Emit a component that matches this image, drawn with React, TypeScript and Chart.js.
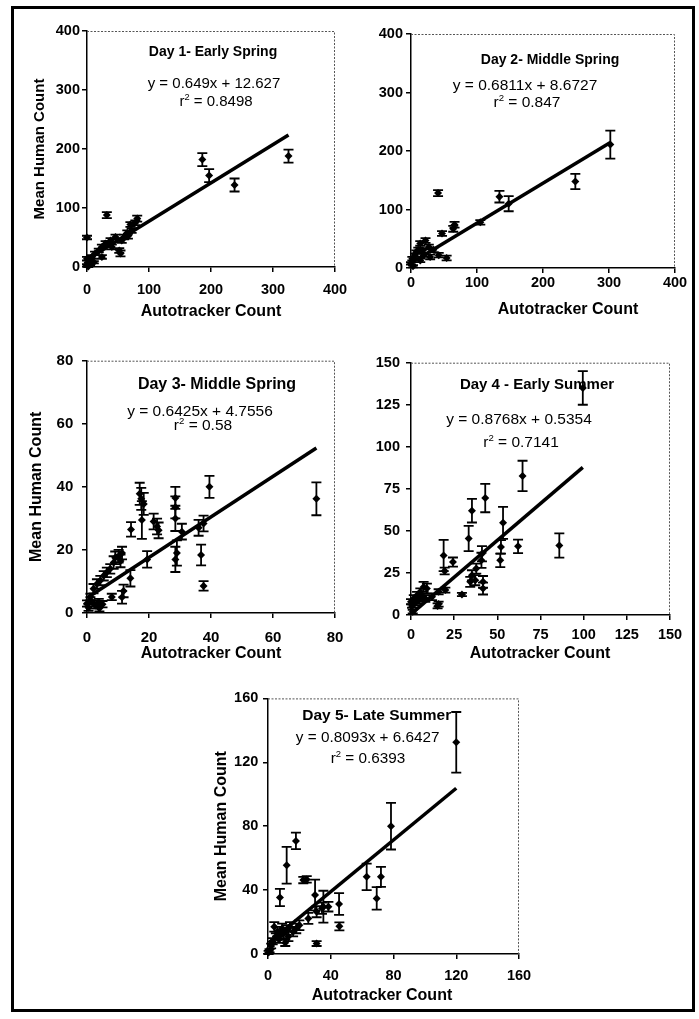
import React, { useEffect, useRef } from "react";
import { Chart, registerables } from "chart.js";

Chart.register(...registerables);

const FONT = '"Liberation Sans", Arial, Helvetica, sans-serif';

// ---------------- Data ----------------
// Day 1 - Early Spring
const day1X = [325, 186, 197, 238, 32, 0, 81, 78, 70, 72, 65, 60, 54, 52, 46, 38, 40, 30, 35, 24, 19, 24, 13, 8, 0, 3, 11, 5, 0, 2, 56, 66];
const day1Y = [188, 182, 155, 139, 88, 50, 82, 75, 72, 62, 58, 51, 23, 28, 51, 45, 34, 40, 40, 34, 28, 17, 23, 17, 14, 9, 8, 5, 3, 1, 45, 52];
const day1Err = [11, 11, 11, 11, 5, 3, 5, 4, 4, 4, 4, 4, 5, 4, 4, 4, 4, 4, 4, 4, 3, 3, 3, 3, 3, 2, 2, 2, 2, 1, 4, 4];

// Day 2 - Middle Spring
const day2X = [302, 249, 134, 148, 105, 41, 66, 64, 47, 54, 22, 14, 27, 11, 34, 6, 19, 42, 2, 14, 0, 29, 8, 3, 18];
const day2Y = [211, 148, 122, 110, 78, 128, 74, 67, 59, 17, 47, 42, 36, 31, 31, 22, 22, 22, 16, 13, 8, 19, 27, 3, 30];
const day2Err = [24, 13, 10, 13, 4, 5, 5, 5, 4, 4, 4, 4, 4, 4, 4, 3, 3, 4, 3, 3, 2, 4, 3, 2, 4];

// Day 3 - Middle Spring
const day3X = [74, 39.5, 28.5, 28.5, 28.5, 29, 28.5, 36.8, 37.6, 36, 37.6, 30.6, 17, 17.5, 18.3, 17.7, 14.2, 21.5, 22.6, 23.1, 19.4, 14, 11.8, 11.3, 11.3, 10.2, 9.1, 8.6, 10.8, 7.5, 6.4, 5.4, 4.3, 3.2, 2.1, 8, 1.1, 0, 2.1, 3.8, 1.1, 2.7, 0.5, 5, 4];
const day3Y = [36.2, 40, 36.5, 33.5, 30, 19, 17, 18.4, 8.6, 27, 28.4, 25.8, 37.8, 36.2, 34.6, 29.5, 26.5, 29, 27.4, 26.2, 17, 11, 7, 5, 19, 18, 17.5, 16, 16.5, 14, 12.9, 11.8, 10.3, 9.2, 7.7, 5.1, 5.1, 3, 3, 3.5, 4, 2.4, 1.7, 2.8, 1.5];
const day3Err = [5.2, 3.5, 3.5, 3.5, 4, 4, 4, 3.3, 1.5, 2.5, 2.5, 2.5, 3.5, 3.5, 3.5, 6, 2.3, 2.5, 2.5, 2.5, 2.6, 2.6, 2, 2, 2, 2, 2, 2, 2, 1.5, 1.5, 1.5, 1.5, 1.5, 1.5, 1, 1, 1, 1, 1, 1, 1, 1, 1, 1];

// Day 4 - Early Summer
const day4X = [99.5, 64.6, 85.9, 43, 35.3, 33.4, 53.3, 62, 52.1, 51.7, 41.1, 40.8, 37.8, 18.9, 24.3, 19.5, 35.3, 34.3, 37.2, 41.7, 41.7, 29.5, 16, 15.4, 7.3, 9.2, 19.9, 16, 5.4, 3.5, 1.6, 0, 6.4, 2.5, 0.6, 4.5, 8.3, 12.2, 1];
const day4Y = [135, 82.7, 41.3, 69.5, 62, 45.5, 54.8, 40.8, 40.5, 32.5, 36.4, 32.5, 27.6, 35.4, 31.5, 26.2, 23.6, 19.7, 20.7, 19.7, 15.7, 12.2, 6.5, 5.4, 16.7, 15.7, 14.8, 13.8, 13.8, 11.8, 9.8, 7.9, 10.8, 7.3, 5.3, 8.8, 9.8, 10.8, 2];
const day4Err = [10, 9, 7.2, 8.4, 7, 7.5, 9.5, 4, 4, 4, 4.5, 4.5, 3, 9.3, 2.7, 2, 3, 3, 3, 3.5, 3.5, 1, 1.5, 1.5, 3, 3, 1.5, 1.5, 2, 2, 2, 1.5, 2, 1.5, 1, 2, 2, 2, 1];

// Day 5 - Late Summer
const day5X = [120, 78.4, 62.9, 72, 69.3, 45.3, 45.5, 31, 30, 35.3, 22.5, 24.7, 17.8, 11.9, 7.6, 25.7, 31, 34.4, 38.5, 1, 2, 3, 5, 6, 8, 9, 10, 12, 13, 14, 16, 18, 20, 4, 7, 11, 0.4];
const day5Y = [132.5, 80, 48.3, 48.3, 34.8, 31.3, 17.3, 6.5, 36.9, 29.6, 46.3, 46.7, 70.8, 55.6, 35.4, 22.3, 26.5, 28.6, 29.6, 2, 5, 8, 11, 14, 12, 16, 13, 15, 11, 17, 14, 16, 18, 17, 9, 7, 1];
const day5Err = [19, 14.6, 8.3, 6.3, 7, 6.8, 2.5, 1.5, 9.6, 10, 2, 2, 5.2, 11.5, 5.4, 3.5, 3.5, 3.5, 3, 1, 1.5, 2, 2, 3, 3, 3, 3, 3, 3, 3, 3, 3, 3, 3, 2, 2, 1];

const titles = ["Day 1- Early Spring", "Day 2- Middle Spring", "Day 3- Middle Spring", "Day 4 - Early Summer", "Day 5- Late Summer"];
const equations = ["y = 0.649x + 12.627", "y = 0.6811x + 8.6727", "y = 0.6425x + 4.7556", "y = 0.8768x + 0.5354", "y = 0.8093x + 6.6427"];
const rSquared = ["0.8498", "0.847", "0.58", "0.7141", "0.6393"];
const slopes = [0.649, 0.6811, 0.6425, 0.8768, 0.8093];
const intercepts = [12.627, 8.6727, 4.7556, 0.5354, 6.6427];
const axisMax = [400, 400, 80, 150, 160];
const axisStep = [100, 100, 20, 25, 40];
const xAxisTitle = "Autotracker Count";
const yAxisTitle = "Mean Human Count";

const allX = [day1X, day2X, day3X, day4X, day5X];
const allY = [day1Y, day2Y, day3Y, day4Y, day5Y];
const allErr = [day1Err, day2Err, day3Err, day4Err, day5Err];

// ---------------- Layout (page pixel coordinates) ----------------
type Layout = {
  canvas: number[];
  area: number[];
  yTitle: boolean;
  yTitleFont: number;
  yTitleCenter: number;
  xTitlePos: number[];
  yTickRight: number;
  xTickCenter: number;
  tickFont: number;
  titleFont: number;
  eqFont: number;
  titlePos: number[];
  eqPos: number[];
  r2Pos: number[];
};

const layouts: Layout[] = [
  { canvas: [20, 18, 340, 310], area: [87, 31, 335, 267], yTitle: true, yTitleFont: 15, yTitleCenter: 40, xTitlePos: [211, 316], yTickRight: 80, xTickCenter: 290, tickFont: 14.5, titleFont: 14, eqFont: 15, titlePos: [213, 56], eqPos: [214, 88], r2Pos: [216, 106] },
  { canvas: [360, 18, 335, 310], area: [411, 34, 675, 268], yTitle: false, yTitleFont: 15, yTitleCenter: 0, xTitlePos: [568, 314], yTickRight: 403, xTickCenter: 283, tickFont: 14.5, titleFont: 14, eqFont: 15.5, titlePos: [550, 64], eqPos: [525, 90], r2Pos: [527, 107.3] },
  { canvas: [20, 343, 340, 322], area: [87, 356, 335, 613], yTitle: true, yTitleFont: 16, yTitleCenter: 36.7, xTitlePos: [211, 658], yTickRight: 73.3, xTickCenter: 638, tickFont: 15, titleFont: 16, eqFont: 15.5, titlePos: [217, 389], eqPos: [200, 416], r2Pos: [203, 430] },
  { canvas: [360, 348, 335, 317], area: [411, 361, 670, 615], yTitle: false, yTitleFont: 15, yTitleCenter: 0, xTitlePos: [540, 658], yTickRight: 400, xTickCenter: 635, tickFont: 14.5, titleFont: 15, eqFont: 15.5, titlePos: [537, 389], eqPos: [519, 424], r2Pos: [521, 447] },
  { canvas: [190, 685, 350, 325], area: [268, 698, 519, 954], yTitle: true, yTitleFont: 16, yTitleCenter: 221.7, xTitlePos: [382, 1000], yTickRight: 258.3, xTickCenter: 976, tickFont: 14.5, titleFont: 15.5, eqFont: 15.3, titlePos: [376.7, 720], eqPos: [367.7, 742], r2Pos: [368, 763] },
];

const TICK_LEN = 5;
const X_TITLE_FONT = 16;

function Panel({ idx }: { idx: number }) {
  const ref = useRef<HTMLCanvasElement>(null);
  const L = layouts[idx];
  const [cx, cy, cw, ch] = L.canvas;

  useEffect(() => {
    const [al, at, ar, ab] = L.area;
    const xs = allX[idx];
    const ys = allY[idx];
    const errs = allErr[idx];
    const xMin = Math.min(...xs);
    const xMaxData = Math.max(...xs);
    const fit = [
      { x: xMin, y: slopes[idx] * xMin + intercepts[idx] },
      { x: xMaxData, y: slopes[idx] * xMaxData + intercepts[idx] },
    ];

    const yAxisW = al - cx;
    const xAxisH = cy + ch - ab;
    const padTop = at - cy;
    const padRight = cx + cw - ar;

    const yTitleLH = L.yTitleFont * 1.2;
    const yTitlePadTop = L.yTitleCenter - cx - yTitleLH / 2;
    const yTickPad = al - TICK_LEN - L.yTickRight;
    const tickLH = L.tickFont * 1.2;
    const xTickPad = L.xTickCenter - ab - TICK_LEN - tickLH / 2;

    const decor = {
      id: "decor" + idx,
      beforeDatasetsDraw(chart: any) {
        const { ctx, chartArea } = chart;
        const xS = chart.scales.x;
        const yS = chart.scales.y;
        ctx.save();
        // plot area border (top & right)
        ctx.strokeStyle = "#555";
        ctx.lineWidth = 1;
        ctx.setLineDash([2, 1.5]);
        ctx.beginPath();
        ctx.moveTo(chartArea.left, chartArea.top + 0.5);
        ctx.lineTo(chartArea.right - 0.5, chartArea.top + 0.5);
        ctx.lineTo(chartArea.right - 0.5, chartArea.bottom);
        ctx.stroke();
        ctx.setLineDash([]);
        // error bars
        ctx.strokeStyle = "#000";
        ctx.lineWidth = 1.8;
        const cap = 5;
        for (let i = 0; i < xs.length; i++) {
          const px = xS.getPixelForValue(xs[i]);
          const pt = yS.getPixelForValue(ys[i] + errs[i]);
          const pb = yS.getPixelForValue(Math.max(0, ys[i] - errs[i]));
          ctx.beginPath();
          ctx.moveTo(px, pt);
          ctx.lineTo(px, pb);
          ctx.moveTo(px - cap, pt);
          ctx.lineTo(px + cap, pt);
          ctx.moveTo(px - cap, pb);
          ctx.lineTo(px + cap, pb);
          ctx.stroke();
        }
        ctx.restore();
      },
      afterDraw(chart: any) {
        const ctx = chart.ctx;
        ctx.save();
        ctx.fillStyle = "#000";
        ctx.textBaseline = "alphabetic";
        ctx.textAlign = "center";
        // x-axis title
        ctx.font = `bold ${X_TITLE_FONT}px ${FONT}`;
        ctx.fillText(xAxisTitle, L.xTitlePos[0] - cx, L.xTitlePos[1] - cy);
        // panel title & equation
        ctx.font = `bold ${L.titleFont}px ${FONT}`;
        ctx.fillText(titles[idx], L.titlePos[0] - cx, L.titlePos[1] - cy);
        ctx.font = `${L.eqFont}px ${FONT}`;
        ctx.fillText(equations[idx], L.eqPos[0] - cx, L.eqPos[1] - cy);
        // r² line
        const mainFont = `${L.eqFont}px ${FONT}`;
        const supFont = `${L.eqFont * 0.62}px ${FONT}`;
        ctx.font = mainFont;
        const wR = ctx.measureText("r").width;
        const rest = " = " + rSquared[idx];
        const wRest = ctx.measureText(rest).width;
        ctx.font = supFont;
        const wS = ctx.measureText("2").width;
        const total = wR + wS + wRest;
        const sx = L.r2Pos[0] - cx - total / 2;
        const by = L.r2Pos[1] - cy;
        ctx.textAlign = "left";
        ctx.font = mainFont;
        ctx.fillText("r", sx, by);
        ctx.font = supFont;
        ctx.fillText("2", sx + wR, by - L.eqFont * 0.4);
        ctx.font = mainFont;
        ctx.fillText(rest, sx + wR + wS, by);
        ctx.restore();
      },
    };

    const chart = new Chart(ref.current as HTMLCanvasElement, {
      type: "scatter",
      data: {
        datasets: [
          {
            data: xs.map((x, i) => ({ x, y: ys[i] })),
            pointStyle: "rectRot",
            pointRadius: 4,
            pointBackgroundColor: "#000",
            pointBorderColor: "#000",
            pointBorderWidth: 0,
            clip: false,
          } as any,
          {
            data: fit,
            showLine: true,
            borderColor: "#000",
            borderWidth: 3.5,
            pointRadius: 0,
            clip: false,
          } as any,
        ],
      },
      options: {
        animation: false,
        responsive: false,
        maintainAspectRatio: false,
        events: [],
        layout: { padding: { top: padTop, right: padRight, left: 0, bottom: 0 } },
        plugins: { legend: { display: false }, tooltip: { enabled: false } },
        scales: {
          x: {
            type: "linear",
            position: "bottom",
            min: 0,
            max: axisMax[idx],
            ticks: {
              stepSize: axisStep[idx],
              color: "#000",
              font: { family: FONT, size: L.tickFont, weight: "bold" },
              padding: xTickPad,
              maxRotation: 0,
              autoSkip: false,
            },
            grid: { display: true, drawOnChartArea: false, drawTicks: true, tickLength: TICK_LEN, color: "#000", lineWidth: 1.5 },
            border: { display: true, color: "#000", width: 1.5 },
            title: { display: false },
            afterFit: (s: any) => {
              s.height = xAxisH;
            },
          },
          y: {
            type: "linear",
            position: "left",
            min: 0,
            max: axisMax[idx],
            ticks: {
              stepSize: axisStep[idx],
              color: "#000",
              font: { family: FONT, size: L.tickFont, weight: "bold" },
              padding: yTickPad,
              autoSkip: false,
            },
            grid: { display: true, drawOnChartArea: false, drawTicks: true, tickLength: TICK_LEN, color: "#000", lineWidth: 1.5 },
            border: { display: true, color: "#000", width: 1.5 },
            title: {
              display: L.yTitle,
              text: yAxisTitle,
              color: "#000",
              font: { family: FONT, size: L.yTitleFont, weight: "bold" },
              padding: { top: yTitlePadTop, bottom: 0 },
            },
            afterFit: (s: any) => {
              s.width = yAxisW;
            },
          },
        },
      } as any,
      plugins: [decor],
    });
    return () => chart.destroy();
  }, [idx]);

  return (
    <canvas
      ref={ref}
      width={cw}
      height={ch}
      style={{ position: "absolute", left: cx, top: cy, width: cw, height: ch }}
    />
  );
}

export default function App() {
  return (
    <div style={{ position: "absolute", left: 0, top: 0, width: 699, height: 1019, background: "#fff", overflow: "hidden" }}>
      <div
        style={{
          position: "absolute",
          left: 11,
          top: 6,
          width: 684,
          height: 1006,
          boxSizing: "border-box",
          border: "3px solid #000",
        }}
      />
      {[0, 1, 2, 3, 4].map((i) => (
        <Panel key={i} idx={i} />
      ))}
    </div>
  );
}
